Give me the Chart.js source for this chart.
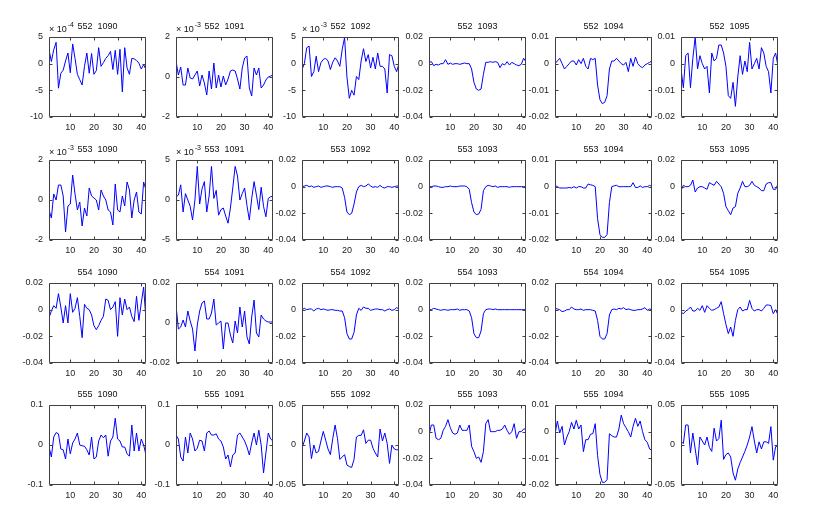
<!DOCTYPE html>
<html>
<head>
<meta charset="utf-8">
<script src="https://cdn.jsdelivr.net/npm/chart.js@4.4.1/dist/chart.umd.min.js"></script>
<style>
  body { margin: 0; background: #fff; width: 830px; height: 529px; position: relative; overflow: hidden; }
  canvas { position: absolute; }
</style>
</head>
<body>
<script>
// x ticks shared by every panel
var xTicks = [10, 20, 30, 40];

// y ticks per panel (row by row)
var yTicks = [
  [-10, -5, 0, 5], [-2, 0, 2], [-10, -5, 0, 5], [-0.04, -0.02, 0, 0.02], [-0.02, -0.01, 0, 0.01], [-0.02, -0.01, 0, 0.01],
  [-2, 0, 2], [-5, 0, 5], [-0.04, -0.02, 0, 0.02], [-0.04, -0.02, 0, 0.02], [-0.02, -0.01, 0, 0.01], [-0.04, -0.02, 0, 0.02],
  [-0.04, -0.02, 0, 0.02], [-0.02, 0, 0.02], [-0.04, -0.02, 0, 0.02], [-0.04, -0.02, 0, 0.02], [-0.04, -0.02, 0, 0.02], [-0.04, -0.02, 0, 0.02],
  [-0.1, 0, 0.1], [-0.1, 0, 0.1], [-0.05, 0, 0.05], [-0.04, -0.02, 0, 0.02], [-0.02, -0.01, 0, 0.01], [-0.05, 0, 0.05]
];

// axis multiplier exponent (x 10^n) shown above some panels
var yExp = [-4, -3, -3, null, null, null,
            -3, -3, null, null, null, null,
            null, null, null, null, null, null,
            null, null, null, null, null, null];

var rowIds = [552, 553, 554, 555];
var colIds = [1090, 1091, 1092, 1093, 1094, 1095];

// row 552 (first three in units of the multiplier)
var d552_1090 = [2.6, 0.4, 2.6, 4.0, -4.6, -1.8, -1.2, 0.5, 2, -1.7, 3.7, 1, -2, -3, -4, -0.5, 2, -1.8, 1.9, -2, -1.3, 3, -0.5, 0.2, 1, 1.5, 2.3, -1.1, 2.5, -2, 2.7, -5.3, 3, -0.8, -2, 1, 0.9, 0.6, 0.1, -1, -0.2, -1.1];
var d552_1091 = [0.8, 0.1, 0.5, -0.4, -0.4, 0.45, -0.05, -0.1, 0.1, 0.3, -0.45, 0.1, -0.3, -0.9, 0.3, -0.6, 0.7, -0.55, 0.1, -0.5, 0.05, -0.4, -0.1, 0.3, 0.35, 0.3, -0.1, -0.6, 0.45, 0.95, 1.05, -0.55, -0.95, 0.45, 0.1, 0.45, -0.55, -0.4, -0.15, 0, 0.05, 0.1];
var d552_1092 = [-1.1, 0, 3, 3.3, -2.4, -1.5, 1.4, -1.5, 0.2, 0.8, 1, 0.5, -1.1, 0.3, 1.1, 0.5, -0.5, 2.7, 4.9, -2.5, -6.5, -5, -5.9, -2.4, -3, 0.5, 2.8, 0.4, 1.7, -0.8, 1.2, -1, 2, -0.5, -0.5, -1, -5.5, 1.7, 1.5, -0.5, -1.5, 0];
var d552_1093 = [0.001, 0.0015, -0.0015, -0.0005, -0.001, 0, 0, 0.003, -0.0005, 0.0005, -0.0005, 0, 0, -0.0005, 0, 0.0005, 0, 0, -0.004, -0.014, -0.019, -0.02, -0.019, -0.008, 0.001, 0.001, 0.0015, 0.001, 0.0015, 0.001, -0.003, 0, -0.001, 0.0015, -0.001, 0.001, 0, -0.001, -0.0015, -0.0005, 0.004, 0.0015];
var d552_1094 = [0, 0.001, 0.002, 0, -0.002, -0.001, 0, 0.001, 0.001, -0.0005, 0.0015, 0, 0.002, -0.001, -0.002, 0.002, 0.0015, 0.002, -0.008, -0.0135, -0.015, -0.0145, -0.012, -0.002, 0.001, 0.001, 0.002, 0.001, 0, -0.0005, 0.0005, -0.003, 0.002, -0.001, 0.0025, 0, -0.001, -0.0015, -0.0005, 0, 0.0005, 0.001];
var d552_1095 = [-0.002, -0.009, 0.003, 0.004, -0.009, 0.002, 0.01, -0.002, 0.003, 0, -0.002, -0.001, -0.011, 0.004, 0.001, 0.002, 0.007, 0.007, 0.004, -0.001, -0.012, -0.013, -0.007, -0.016, -0.005, 0.003, -0.004, 0.001, -0.003, 0.008, -0.002, 0, 0.002, -0.002, 0.006, 0.004, -0.001, -0.003, -0.011, 0.002, 0.004, -0.001];

// row 553
var d553_1090 = [-0.5, -0.9, 0.3, 0, 0.75, 0.75, 0.2, -1.6, -0.3, -0.2, 1.25, 0.3, -0.5, -0.1, -1.3, -0.4, -0.8, 0.6, 0.2, 0.1, 0, -0.5, 0.5, 0.2, 0, -0.5, -0.6, -1.25, 0.8, -0.5, -0.6, 0.2, -0.3, 0.9, 0.5, -0.9, 0, 0.4, -0.6, -0.7, 0.9, 0.5];
var d553_1091 = [0.4, 0.6, 1.9, -1.5, 0.8, 0, -0.8, -2.5, 0, 4.2, -0.5, 1.4, 2.3, -1.5, 0.5, 4.2, 0.2, 1.2, -1.9, -1.2, -1, -2, -2.9, -1, 1.5, 4.2, 3, 0, 0.8, 1.5, -0.7, -2.5, 0.2, 2.3, 0.6, -1.2, 1.6, -0.8, -2.1, 0.2, 0.4, 0.5];
var d553_1092 = [0, 0.0005, 0.001, 0, 0.0005, -0.0005, 0, 0.0005, -0.0005, 0, 0.0005, 0.0005, 0, -0.0005, 0, 0, 0, -0.001, -0.008, -0.019, -0.021, -0.02, -0.013, -0.004, 0, 0.001, 0, 0.0005, 0.002, 0.0005, -0.0005, 0, -0.0005, 0.001, -0.0005, -0.001, 0, 0, -0.0005, 0, 0.0005, 0.0005];
var d553_1093 = [0, 0, 0.0005, 0.0005, 0, -0.0005, -0.0005, 0, 0, 0.0005, 0, 0, 0, 0.0005, 0.0005, 0.0005, 0, -0.002, -0.012, -0.019, -0.021, -0.0205, -0.017, -0.003, 0, 0.001, 0.0005, 0, 0.0005, -0.0005, 0, 0, 0, 0, -0.0005, 0, 0, 0, 0, 0, 0, 0];
var d553_1094 = [0.0005, 0, -0.0005, -0.0005, -0.0005, -0.0005, -0.0003, -0.0005, 0, -0.0005, 0, 0, -0.0005, -0.0005, 0.001, 0.0007, 0.0005, 0, -0.012, -0.018, -0.019, -0.019, -0.018, -0.006, 0, 0.0003, 0.0005, 0, 0, 0, 0, 0, 0, 0.0015, -0.0003, -0.0003, 0.0003, -0.0003, 0, 0, 0.0005, 0];
var d553_1095 = [-0.003, 0.001, 0, 0, 0.001, 0.005, -0.004, -0.001, 0, 0, -0.001, -0.002, 0.003, 0.002, 0.001, 0.004, 0.002, 0, -0.005, -0.015, -0.018, -0.021, -0.016, -0.015, -0.005, -0.001, 0.004, 0, 0, 0.001, 0.004, 0.001, 0, -0.001, -0.003, -0.003, 0.002, 0.003, 0.003, -0.002, -0.002, 0.002];

// row 554
var d554_1090 = [-0.006, -0.001, 0.003, 0.001, 0.012, 0.002, -0.01, 0.003, -0.01, 0.012, -0.002, 0.001, 0.009, -0.005, -0.021, 0.004, 0.001, 0, -0.004, -0.012, -0.015, -0.012, -0.008, -0.005, 0.008, 0.007, 0, 0.002, 0.006, -0.02, 0.009, -0.004, 0.008, 0, 0.002, -0.005, -0.009, 0.01, -0.008, 0.005, 0.017, -0.008];
var d554_1091 = [0.009, -0.003, -0.002, 0.0015, -0.002, 0.006, 0.001, -0.003, -0.014, -0.001, 0.006, 0.01, 0.011, 0.002, 0.002, 0.005, 0.012, -0.001, 0, 0.001, -0.013, 0, 0, -0.006, -0.01, 0.001, -0.005, 0.008, -0.002, 0.006, -0.007, -0.0105, 0.003, 0.0115, -0.005, -0.007, 0.004, 0.002, 0.001, 0.0005, 0.0005, 0.0005];
var d554_1092 = [0, 0.001, 0, 0.0005, 0.0005, -0.001, 0.0005, 0.001, 0, 0.0005, 0, -0.0005, 0, 0, -0.0005, -0.0005, -0.001, -0.001, -0.006, -0.018, -0.022, -0.022, -0.017, -0.004, 0.001, -0.0005, 0.002, 0.001, 0.001, -0.0005, 0, 0.0005, 0.0005, 0, 0, -0.001, 0, 0.0005, -0.0005, 0, 0.0015, 0.0005];
var d554_1093 = [0, 0, 0.001, 0.0005, 0, -0.0005, 0, 0, -0.0005, 0, 0, 0, 0.0005, -0.0005, 0, 0, 0, -0.001, -0.006, -0.018, -0.021, -0.021, -0.016, -0.003, 0, 0.0005, 0.0005, 0, 0.0005, 0, 0, 0, 0, 0, 0, 0, 0, 0, 0, 0, 0, 0];
var d554_1094 = [0.001, 0.0005, 0, -0.0015, -0.001, 0, 0, 0.002, 0.0005, 0, 0, 0.0005, -0.0005, 0, 0, 0, -0.0005, -0.001, -0.008, -0.02, -0.022, -0.022, -0.018, -0.004, 0, 0.0005, 0, 0.001, 0.0005, 0.0015, 0, 0.0005, 0, -0.0005, -0.0005, 0, 0, 0.0005, 0.0015, -0.0005, 0.0005, 0];
var d554_1095 = [-0.002, -0.003, -0.001, 0, 0.002, -0.001, -0.001, 0.001, -0.0005, 0.003, -0.002, 0.003, 0.001, -0.0005, 0, 0.001, 0.002, 0.006, -0.003, -0.011, -0.018, -0.013, -0.02, -0.008, 0, 0.002, -0.001, 0, 0, 0.007, 0.001, -0.001, 0, 0, -0.001, 0.001, 0.0035, 0.0035, 0.003, -0.003, 0, -0.004];

// row 555
var d555_1090 = [-0.004, -0.03, 0.02, 0.031, 0.028, -0.01, -0.012, -0.035, 0.015, -0.022, 0.005, 0.015, 0.03, 0, -0.002, -0.003, -0.012, -0.025, 0.02, -0.035, -0.03, 0.01, 0.025, 0.018, 0.025, -0.028, 0.01, 0.02, 0.067, 0.015, 0.01, -0.005, -0.005, -0.022, -0.028, 0.05, -0.015, 0.03, -0.015, 0.015, 0, -0.025];
var d555_1091 = [0.025, 0.015, -0.03, -0.04, 0.02, -0.02, 0.03, 0.015, -0.015, -0.008, 0.012, 0.01, -0.015, 0.03, 0.035, 0.025, 0.025, 0.028, 0.015, 0.01, -0.005, -0.035, -0.025, -0.055, -0.025, -0.02, 0.025, 0.03, 0.02, 0.01, -0.005, -0.025, 0.005, 0.03, 0, 0.037, 0, -0.07, -0.02, 0.03, 0.015, 0.01];
var d555_1092 = [-0.004, 0.005, 0.015, 0.01, -0.017, 0, -0.01, -0.008, 0.005, 0.017, 0.006, -0.005, -0.012, 0.008, 0.025, 0.008, -0.018, -0.015, -0.012, -0.025, -0.027, -0.028, -0.018, 0.01, 0.012, 0.012, 0.019, 0.002, 0.006, 0.006, -0.004, -0.01, -0.015, 0.02, 0.005, 0.015, 0.002, -0.023, 0, -0.005, -0.006, -0.006];
var d555_1093 = [-0.0025, 0.005, 0.005, -0.005, -0.006, -0.005, 0.001, 0.004, 0.009, 0.003, -0.001, -0.002, -0.001, 0.005, 0.001, 0.001, 0.001, 0.005, -0.011, -0.015, -0.02, -0.019, -0.023, -0.015, 0.006, 0.009, 0, 0, 0, 0.001, 0.001, 0.002, 0.005, 0.001, -0.002, 0, 0.006, -0.005, 0, 0, 0.002, 0.002];
var d555_1094 = [-0.001, 0.004, -0.0005, 0.002, -0.005, -0.002, 0, 0.0035, 0.001, 0.0043, 0.001, 0.0025, -0.0075, -0.003, -0.003, -0.001, -0.0007, 0.003, -0.009, -0.016, -0.019, -0.019, -0.018, -0.0008, -0.0015, -0.002, -0.002, 0.001, 0.0062, 0.003, 0.0015, 0, -0.002, 0.002, 0.005, 0.002, 0.004, 0, -0.003, -0.004, -0.0065, -0.007];
var d555_1095 = [0.004, 0.002, 0.025, 0.025, -0.01, 0.015, -0.005, -0.025, 0.01, 0.005, 0, 0.01, -0.003, -0.008, 0.021, 0.005, 0.008, 0.031, -0.018, -0.012, -0.01, -0.015, -0.035, -0.044, -0.03, -0.022, -0.015, -0.008, 0, 0.01, 0.023, 0.005, -0.01, 0.004, -0.005, 0.004, 0.004, 0.002, 0.023, -0.019, -0.002, -0.001];

var series = [
  d552_1090, d552_1091, d552_1092, d552_1093, d552_1094, d552_1095,
  d553_1090, d553_1091, d553_1092, d553_1093, d553_1094, d553_1095,
  d554_1090, d554_1091, d554_1092, d554_1093, d554_1094, d554_1095,
  d555_1090, d555_1091, d555_1092, d555_1093, d555_1094, d555_1095
];

var FONT = '"Liberation Sans", Arial, sans-serif';
var AXIS = '#404040';

// box, inward ticks, title and multiplier, drawn matlab style
var framePlugin = {
  id: 'frame',
  afterDraw: function (chart, args, opts) {
    var a = chart.chartArea, ctx = chart.ctx;
    var sx = chart.scales.x, sy = chart.scales.y;
    var L = Math.round(a.left) + 0.5, R = Math.round(a.right) - 0.5;
    var T = Math.round(a.top) + 0.5, B = Math.round(a.bottom) - 0.5;
    ctx.save();
    ctx.strokeStyle = AXIS;
    ctx.lineWidth = 1;
    ctx.beginPath();
    ctx.rect(L, T, R - L, B - T);
    xTicks.forEach(function (v) {
      var px = Math.round(sx.getPixelForValue(v)) + 0.5;
      ctx.moveTo(px, B); ctx.lineTo(px, B - 3);
      ctx.moveTo(px, T); ctx.lineTo(px, T + 3);
    });
    sy.ticks.forEach(function (t) {
      var py = Math.round(sy.getPixelForValue(t.value)) + 0.5;
      ctx.moveTo(L, py); ctx.lineTo(L + 3, py);
      ctx.moveTo(R, py); ctx.lineTo(R - 3, py);
    });
    ctx.stroke();

    ctx.fillStyle = '#111';
    ctx.font = '9px ' + FONT;
    ctx.textAlign = 'center';
    ctx.textBaseline = 'middle';
    ctx.fillText(opts.title, (a.left + a.right) / 2, a.top - 10);
    if (opts.exp !== null && opts.exp !== undefined) {
      ctx.textAlign = 'left';
      ctx.fillText('\u00d7 10', a.left, a.top - 7);
      var w = ctx.measureText('\u00d7 10').width;
      ctx.font = '7px ' + FONT;
      ctx.fillText(String(opts.exp), a.left + w + 1, a.top - 12);
    }
    ctx.restore();
  }
};

var colLeft = [49, 175.5, 302, 428.5, 555, 681];
var rowTop = [37, 160, 283, 405];
var PW = 97, PH = 80, PADL = 45, PADT = 20, PADB = 18, PADR = 8;

series.forEach(function (vals, k) {
  var r = Math.floor(k / 6), c = k % 6;
  var cv = document.createElement('canvas');
  cv.width = PADL + PW + PADR;
  cv.height = PADT + PH + PADB;
  cv.style.left = Math.round(colLeft[c] - PADL) + 'px';
  cv.style.top = Math.round(rowTop[r] - PADT) + 'px';
  document.body.appendChild(cv);
  var yt = yTicks[k];

  new Chart(cv.getContext('2d'), {
    type: 'line',
    data: {
      datasets: [{
        data: vals.map(function (v, i) { return { x: i + 1, y: v }; }),
        borderColor: '#0000ff',
        borderWidth: 1,
        pointRadius: 0,
        tension: 0,
        fill: false
      }]
    },
    options: {
      responsive: false,
      animation: false,
      events: [],
      layout: { padding: { top: PADT, right: PADR, left: 0, bottom: 0 } },
      plugins: {
        legend: { display: false },
        tooltip: { enabled: false },
        frame: { title: rowIds[r] + '  ' + colIds[c], exp: yExp[k] }
      },
      scales: {
        x: {
          type: 'linear',
          min: 1,
          max: 42,
          afterBuildTicks: function (s) { s.ticks = xTicks.map(function (v) { return { value: v }; }); },
          afterFit: function (s) { s.height = PADB; },
          grid: { display: false, drawTicks: false },
          border: { display: false },
          ticks: { font: { size: 9, family: FONT }, color: '#222', padding: 5, maxRotation: 0, autoSkip: false }
        },
        y: {
          type: 'linear',
          min: yt[0],
          max: yt[yt.length - 1],
          afterBuildTicks: function (s) { s.ticks = yt.map(function (v) { return { value: v }; }); },
          afterFit: function (s) { s.width = PADL; },
          grid: { display: false, drawTicks: false },
          border: { display: false },
          ticks: {
            font: { size: 9, family: FONT }, color: '#222', padding: 6,
            callback: function (v) { return String(v); }
          }
        }
      }
    },
    plugins: [framePlugin]
  });
});
</script>
</body>
</html>
